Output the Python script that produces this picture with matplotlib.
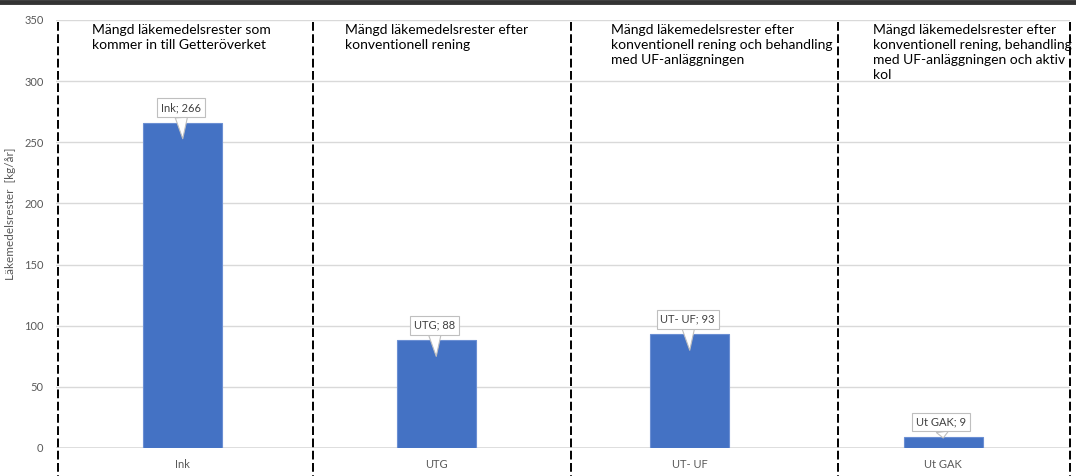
import matplotlib
matplotlib.use("Agg")
import numpy as np
from matplotlib import pyplot as plt
from matplotlib.transforms import offset_copy, blended_transform_factory

plt.rcParams['font.family'] = ['Lato', 'DejaVu Sans']

# data
categories = ["Ink", "UTG", "UT- UF", "Ut GAK"]
values = [266, 88, 93, 9]
panel_texts = [
    "Mängd läkemedelsrester som\nkommer in till Getteröverket",
    "Mängd läkemedelsrester efter\nkonventionell rening",
    "Mängd läkemedelsrester efter\nkonventionell rening och behandling\nmed UF-anläggningen",
    "Mängd läkemedelsrester efter\nkonventionell rening, behandling\nmed UF-anläggningen och aktiv\nkol",
]
yticks = [0, 50, 100, 150, 200, 250, 300, 350]
# dashed separator lines (drawn shapes, in category units)
separators = [-0.492, 0.514, 1.531, 2.585, 3.5]
text_x = [-0.357, 0.641, 1.690, 2.724]

W, H = 1076, 476
fig = plt.figure(figsize=(W / 100, H / 100), dpi=100)
ax = fig.add_axes([56 / W, 1 - 448 / H, 1014 / W, 428 / H])

x = np.arange(len(categories))
ax.bar(x, values, width=0.31, color='#4472C4', edgecolor='#6b8fd3', linewidth=0.8, zorder=3)

ax.set_xlim(-0.5, len(categories) - 0.5)
ax.set_ylim(0, 350)
ax.set_yticks(yticks)
ax.set_xticks(x)
ax.set_xticklabels(categories)
ax.tick_params(axis='both', length=0, colors='#595959', labelsize=8)
ax.tick_params(axis='y', pad=9)
ax.tick_params(axis='x', pad=8)
ax.grid(axis='y', color='#d9d9d9', linewidth=1, zorder=0)
for s in ax.spines.values():
    s.set_visible(False)
ax.axhline(0, color='#d9d9d9', linewidth=1.2, zorder=2)
ax.set_ylabel("Läkemedelsrester  [kg/år]", color='#595959', fontsize=8.5)
ax.yaxis.set_label_coords(-0.039, 0.547)

# data label callouts
for i, v in enumerate(values):
    tip = -16 if v > 30 else -1
    tip_tr = offset_copy(ax.transData, fig=fig, x=0, y=tip, units='dots')
    box_tr = offset_copy(ax.transData, fig=fig, x=-2, y=15, units='dots')
    ax.annotate(f"{categories[i]}; {v}", xy=(i, v), xycoords=tip_tr,
                xytext=(i, v), textcoords=box_tr,
                ha='center', va='center', fontsize=8, color='#404040', zorder=5,
                bbox=dict(boxstyle='square,pad=0.35', fc='white', ec='#bfbfbf', lw=0.8),
                arrowprops=dict(arrowstyle='wedge,tail_width=1.1,shrink_factor=0.5', fc='white', ec='#bfbfbf', lw=0.8,
                                shrinkA=0, shrinkB=0))

# dashed separators
tr = blended_transform_factory(ax.transData, ax.transAxes)
for sx in separators:
    ax.plot([sx, sx], [1 - 2 / 428, -30 / 428], transform=tr, color='black', linewidth=1.4,
            dashes=(4.5, 1.8), clip_on=False, zorder=6)

# panel descriptions
for tx, t in zip(text_x, panel_texts):
    ax.text(tx, 1 - 4 / 428, t, transform=tr, ha='left', va='top', fontsize=10,
            color='black', linespacing=1.3, zorder=6)

# top border bar
fig.add_artist(plt.Line2D([0, 1], [1 - 2 / H, 1 - 2 / H], transform=fig.transFigure,
                          color='#333333', linewidth=3.5))

fig.savefig("out.png", dpi=100)
